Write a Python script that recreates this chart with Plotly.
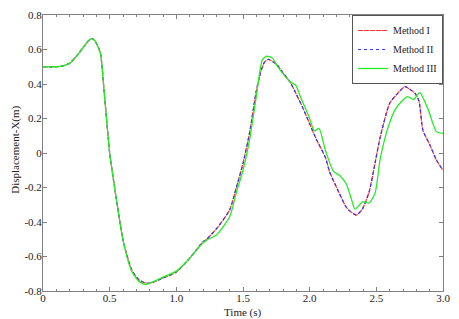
import plotly.graph_objects as go

# Time samples (s) and displacement (m)
t_m1 = [0.0, 0.1, 0.15, 0.2, 0.25, 0.3, 0.34, 0.365, 0.39, 0.43, 0.4575, 0.5, 0.54, 0.6, 0.665, 0.72, 0.778, 0.83, 0.9, 1.0,
        1.1, 1.2, 1.228, 1.3, 1.4, 1.45, 1.5, 1.55, 1.6, 1.633, 1.66, 1.69, 1.75, 1.8, 1.858, 1.9, 1.95, 2.0, 2.05,
        2.12, 2.15, 2.22, 2.28, 2.35, 2.395, 2.445, 2.495, 2.53, 2.6, 2.66, 2.715, 2.75, 2.79, 2.82, 2.85, 2.9, 2.95, 3.0]
method1 = [0.5, 0.5, 0.505, 0.52, 0.56, 0.61, 0.65, 0.663, 0.65, 0.58, 0.365, 0.0, -0.214, -0.504, -0.678, -0.735, -0.755, -0.748, -0.725, -0.69,
           -0.61, -0.515, -0.5, -0.44, -0.33, -0.2, -0.06, 0.12, 0.36, 0.47, 0.525, 0.543, 0.515, 0.465, 0.405, 0.34, 0.26, 0.168, 0.08,
           -0.03, -0.11, -0.23, -0.32, -0.36, -0.325, -0.228, -0.04, 0.095, 0.288, 0.346, 0.385, 0.37, 0.346, 0.3, 0.13, 0.05, -0.04, -0.1]

t_m2 = t_m1
method2 = [0.5, 0.5, 0.505, 0.52, 0.56, 0.61, 0.65, 0.663, 0.65, 0.58, 0.365, 0.0, -0.214, -0.504, -0.678, -0.735, -0.755, -0.748, -0.725, -0.69,
           -0.61, -0.515, -0.5, -0.44, -0.33, -0.2, -0.06, 0.12, 0.36, 0.47, 0.525, 0.543, 0.515, 0.465, 0.405, 0.34, 0.26, 0.168, 0.08,
           -0.03, -0.11, -0.23, -0.32, -0.36, -0.325, -0.228, -0.04, 0.095, 0.288, 0.346, 0.385, 0.37, 0.346, 0.3, 0.13, 0.05, -0.04, -0.1]

t_m3 = [0.0, 0.1, 0.15, 0.2, 0.25, 0.3, 0.34, 0.365, 0.39, 0.43, 0.4575, 0.5, 0.54, 0.6, 0.665, 0.72, 0.77, 0.83, 0.9, 1.0,
        1.1, 1.2, 1.228, 1.3, 1.4, 1.45, 1.5, 1.55, 1.6, 1.645, 1.678, 1.72, 1.76, 1.82, 1.858, 1.895, 1.93, 1.995, 2.035,
        2.07, 2.12, 2.18, 2.225, 2.275, 2.31, 2.34, 2.40, 2.445, 2.49, 2.53, 2.59, 2.64, 2.69, 2.735, 2.78, 2.825, 2.89, 2.95, 3.0]
method3 = [0.5, 0.5, 0.505, 0.52, 0.56, 0.61, 0.65, 0.663, 0.65, 0.58, 0.365, 0.0, -0.214, -0.504, -0.685, -0.745, -0.763, -0.745, -0.72, -0.685,
           -0.61, -0.52, -0.505, -0.475, -0.37, -0.23, -0.1, 0.08, 0.33, 0.54, 0.562, 0.55, 0.5, 0.44, 0.41, 0.394, 0.327, 0.21, 0.128,
           0.143, 0.01, -0.108, -0.13, -0.18, -0.26, -0.325, -0.282, -0.29, -0.234, -0.03, 0.153, 0.25, 0.30, 0.327, 0.31, 0.35, 0.25, 0.124, 0.114]

x_tickvals = [0, 0.5, 1.0, 1.5, 2.0, 2.5, 3.0]
x_ticktext = ["0", "0.5", "1.0", "1.5", "2.0", "2.5", "3.0"]
y_tickvals = [-0.8, -0.6, -0.4, -0.2, 0, 0.2, 0.4, 0.6, 0.8]
y_ticktext = ["-0.8", "-0.6", "-0.4", "-0.2", "0", "0.2", "0.4", "0.6", "0.8"]
x_title = "Time (s)"
y_title = "Displacement-X(m)"

FONT = "Liberation Serif"
TXT = "#222222"

fig = go.Figure()
fig.add_trace(go.Scatter(x=t_m1, y=method1, mode="lines", name="Method I",
                         line=dict(color="#ff3333", width=1.2, dash="5px,1px", shape="spline", smoothing=0.6)))
fig.add_trace(go.Scatter(x=t_m2, y=method2, mode="lines", name="Method II",
                         line=dict(color="#3333ff", width=1.2, dash="3px,3px", shape="spline", smoothing=0.6)))
fig.add_trace(go.Scatter(x=t_m3, y=method3, mode="lines", name="Method III",
                         line=dict(color="#22ee22", width=1.3, shape="spline", smoothing=0.6)))

axis_common = dict(showgrid=False, zeroline=False, showline=True, linecolor="#808080", linewidth=1,
                   mirror="ticks", ticks="inside", tickcolor="#808080", ticklen=4, automargin=False,
                   tickfont=dict(family=FONT, size=11, color=TXT))

fig.update_xaxes(range=[0, 3.0], tickvals=x_tickvals, ticktext=x_ticktext, ticklabelstandoff=-3,
                 minor=dict(dtick=0.1, ticks="inside", ticklen=2, tickcolor="#808080"),
                 **axis_common)
fig.update_yaxes(range=[-0.8, 0.8], tickvals=y_tickvals, ticktext=y_ticktext, ticklabelstandoff=-2,
                 **axis_common)

fig.add_annotation(text=x_title, xref="paper", yref="paper", x=0.5, y=-0.078,
                   xanchor="center", yanchor="middle", showarrow=False,
                   font=dict(family=FONT, size=11, color=TXT))
fig.add_annotation(text=y_title, xref="paper", yref="paper", x=-0.068, y=0.511, textangle=-90,
                   xanchor="center", yanchor="middle", showarrow=False,
                   font=dict(family=FONT, size=11, color=TXT))

# the page body adds an 8px offset, so the figure is sized/margined to compensate
fig.update_layout(
    width=451, height=311,
    margin=dict(l=35, r=16, t=7, b=28),
    paper_bgcolor="white", plot_bgcolor="white",
    font=dict(family=FONT, size=11, color=TXT),
    legend=dict(x=1.0, y=1.0, xanchor="right", yanchor="top",
                bgcolor="white", bordercolor="#555555", borderwidth=1,
                font=dict(family=FONT, size=10, color=TXT),
                tracegroupgap=0, itemwidth=30),
    showlegend=True,
)

fig.write_html("out.html")
